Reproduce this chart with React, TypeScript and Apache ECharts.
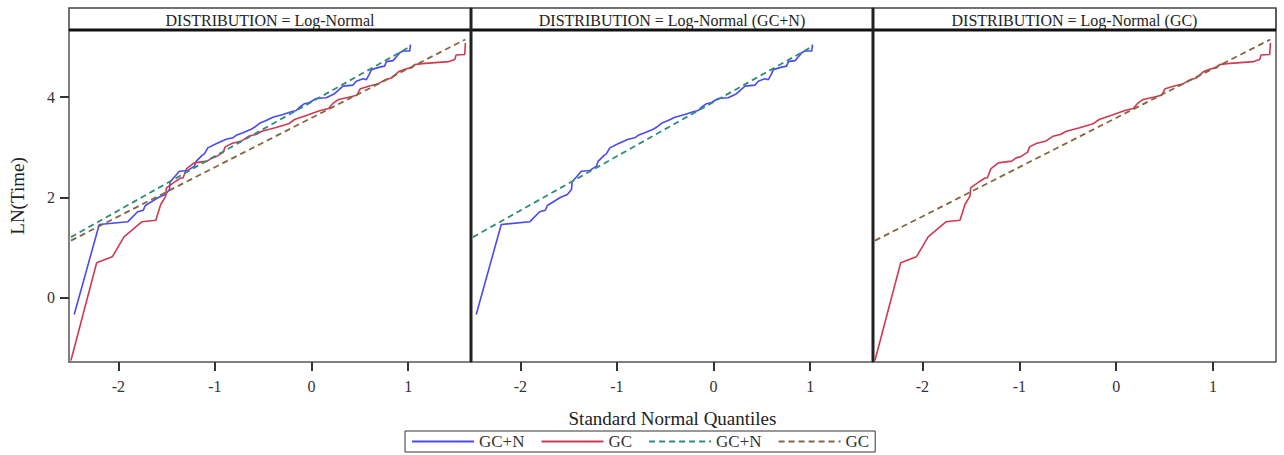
import React, { useEffect, useRef } from "react";
import * as echarts from "echarts";

// ---- data ----
const PANEL_TITLES = [
  "DISTRIBUTION = Log-Normal",
  "DISTRIBUTION = Log-Normal (GC+N)",
  "DISTRIBUTION = Log-Normal (GC)",
];
const X_TICKS = [-2, -1, 0, 1];
const Y_TICKS = [0, 2, 4];

const gcnX = [-2.456, -2.197, -1.903, -1.8, -1.741, -1.72, -1.582, -1.513, -1.47, -1.464, -1.368, -1.28, -1.212, -1.195, -1.133, -1.109, -1.074, -0.988, -0.884, -0.815, -0.78, -0.711, -0.625, -0.59, -0.539, -0.47, -0.4, -0.297, -0.21, -0.159, -0.124, -0.073, -0.021, 0.048, 0.152, 0.238, 0.325, 0.428, 0.463, 0.532, 0.567, 0.601, 0.618, 0.705, 0.756, 0.774, 0.843, 0.894, 0.912, 0.946, 1.016, 1.023];
const gcnY = [-0.333, 1.462, 1.515, 1.715, 1.747, 1.84, 2.006, 2.06, 2.16, 2.31, 2.525, 2.54, 2.625, 2.72, 2.84, 2.87, 2.99, 3.07, 3.16, 3.19, 3.24, 3.29, 3.36, 3.4, 3.48, 3.535, 3.6, 3.655, 3.71, 3.735, 3.8, 3.87, 3.895, 3.974, 3.99, 4.07, 4.22, 4.24, 4.32, 4.37, 4.35, 4.47, 4.55, 4.6, 4.62, 4.71, 4.73, 4.84, 4.885, 4.92, 4.92, 5.05];

const gcX = [-2.49, -2.224, -2.062, -1.941, -1.757, -1.612, -1.561, -1.509, -1.502, -1.405, -1.353, -1.33, -1.295, -1.216, -1.078, -1.032, -0.991, -0.915, -0.894, -0.819, -0.732, -0.653, -0.576, -0.514, -0.376, -0.238, -0.176, -0.048, 0.09, 0.176, 0.218, 0.28, 0.383, 0.47, 0.505, 0.591, 0.694, 0.764, 0.833, 0.902, 0.989, 1.04, 1.067, 1.144, 1.42, 1.482, 1.496, 1.585, 1.592];
const gcY = [-1.25, 0.698, 0.817, 1.216, 1.515, 1.547, 1.86, 2.026, 2.19, 2.325, 2.39, 2.39, 2.57, 2.69, 2.725, 2.79, 2.81, 2.9, 3.01, 3.08, 3.12, 3.22, 3.255, 3.32, 3.39, 3.47, 3.555, 3.64, 3.735, 3.775, 3.87, 3.955, 4.0, 4.04, 4.17, 4.22, 4.27, 4.35, 4.39, 4.51, 4.57, 4.59, 4.65, 4.67, 4.71, 4.75, 4.84, 4.85, 5.08];

// fitted reference lines (end points)
const gcnFitX = [-2.49, 1.03];
const gcnFitY = [1.21, 5.02];
const gcFitX = [-2.49, 1.59];
const gcFitY = [1.14, 5.15];

const X_MIN = -2.51;
const X_MAX = 1.65;
const Y_MIN = -1.28;
const Y_MAX = 5.34;

const zip = (xs: number[], ys: number[]) => xs.map((x, i) => [x, ys[i]]);

const FONT = "'Liberation Serif', 'Times New Roman', serif";
const COL_GCN = "#4a4af0";
const COL_GC = "#cf3a52";
const COL_GCN_FIT = "#2f8c7c";
const COL_GC_FIT = "#86663f";
const AXIS_COL = "#555";
const TICK_COL = "#333";

const PANELS = [
  { left: 69, width: 402 },
  { left: 471, width: 402 },
  { left: 873, width: 403 },
];
const TOP = 30;
const BOTTOM = 362;
const HEAD_TOP = 8;

export default function App() {
  const ref = useRef<HTMLDivElement>(null);

  useEffect(() => {
    if (!ref.current) return;
    const chart = echarts.init(ref.current, null, { renderer: "svg" });

    const grids = PANELS.map((p) => ({
      left: p.left,
      top: TOP,
      width: p.width,
      height: BOTTOM - TOP,
      show: false,
      containLabel: false,
      outerBoundsMode: "none",
    }));

    const xAxes = PANELS.map((_, i) => ({
      type: "value",
      gridIndex: i,
      position: "bottom",
      min: X_MIN,
      max: X_MAX,
      axisLine: { show: true, onZero: false, lineStyle: { color: AXIS_COL, width: 1.5 } },
      splitLine: { show: false },
      axisTick: {
        show: true,
        length: 9,
        customValues: X_TICKS,
        lineStyle: { color: TICK_COL, width: 2 },
      },
      axisLabel: {
        show: true,
        customValues: X_TICKS,
        margin: 16,
        color: "#333",
        fontFamily: FONT,
        fontSize: 16,
        formatter: (v: number) => String(v),
      },
    }));

    const yAxes = PANELS.map((_, i) => ({
      type: "value",
      gridIndex: i,
      position: "left",
      min: Y_MIN,
      max: Y_MAX,
      axisLine: { show: true, onZero: false, lineStyle: { color: AXIS_COL, width: 1.5 } },
      splitLine: { show: false },
      axisTick: {
        show: i === 0,
        length: 9,
        customValues: Y_TICKS,
        lineStyle: { color: TICK_COL, width: 2 },
      },
      axisLabel: {
        show: i === 0,
        customValues: Y_TICKS,
        margin: 14,
        color: "#333",
        fontFamily: FONT,
        fontSize: 16,
        formatter: (v: number) => String(v),
      },
      name: i === 0 ? "LN(Time)" : "",
      nameLocation: "middle",
      nameRotate: 90,
      nameGap: 42,
      nameTextStyle: { fontFamily: FONT, fontSize: 19, color: "#222" },
    }));

    const solid = (name: string, color: string, data: number[][], idx: number) => ({
      name,
      type: "line",
      xAxisIndex: idx,
      yAxisIndex: idx,
      data,
      symbol: "none",
      silent: true,
      lineStyle: { color, width: 1.6, type: "solid" },
      itemStyle: { color },
      z: 3,
    });
    const dashed = (name: string, color: string, data: number[][], idx: number) => ({
      name,
      type: "line",
      xAxisIndex: idx,
      yAxisIndex: idx,
      data,
      symbol: "none",
      silent: true,
      lineStyle: { color, width: 1.8, type: [6, 4] },
      itemStyle: { color },
      z: 4,
    });

    const gcn = zip(gcnX, gcnY);
    const gc = zip(gcX, gcY);
    const gcnFit = zip(gcnFitX, gcnFitY);
    const gcFit = zip(gcFitX, gcFitY);

    const series: any[] = [
      solid("GC+N obs", COL_GCN, gcn, 0),
      solid("GC obs", COL_GC, gc, 0),
      dashed("GC+N fit", COL_GCN_FIT, gcnFit, 0),
      dashed("GC fit", COL_GC_FIT, gcFit, 0),
      solid("GC+N obs", COL_GCN, gcn, 1),
      dashed("GC+N fit", COL_GCN_FIT, gcnFit, 1),
      solid("GC obs", COL_GC, gc, 2),
      dashed("GC fit", COL_GC_FIT, gcFit, 2),
    ];

    const RIGHT = PANELS[2].left + PANELS[2].width;
    const graphics: any[] = [];
    PANELS.forEach((p, i) => {
      graphics.push({
        type: "rect",
        shape: { x: p.left, y: HEAD_TOP, width: p.width, height: TOP - HEAD_TOP },
        style: { fill: "#fff", stroke: "#444", lineWidth: 1.5 },
        z: 1,
      });
      graphics.push({
        type: "text",
        x: p.left + p.width / 2,
        y: (HEAD_TOP + TOP) / 2 + 1,
        style: {
          text: PANEL_TITLES[i],
          fontFamily: FONT,
          fontSize: 16,
          fill: "#222",
          align: "center",
          verticalAlign: "middle",
        },
        z: 2,
      });
    });
    graphics.push({
      type: "line",
      shape: { x1: RIGHT, y1: HEAD_TOP, x2: RIGHT, y2: BOTTOM },
      style: { stroke: AXIS_COL, lineWidth: 1.5 },
      z: 11,
    });
    graphics.push({
      type: "line",
      shape: { x1: PANELS[0].left, y1: TOP, x2: RIGHT, y2: TOP },
      style: { stroke: "#111", lineWidth: 3 },
      z: 11,
    });
    [PANELS[1].left, PANELS[2].left].forEach((x) => {
      graphics.push({
        type: "line",
        shape: { x1: x, y1: HEAD_TOP, x2: x, y2: BOTTOM },
        style: { stroke: "#222", lineWidth: 3 },
        z: 11,
      });
    });
    graphics.push({
      type: "text",
      x: (PANELS[0].left + RIGHT) / 2,
      y: 418,
      style: {
        text: "Standard Normal Quantiles",
        fontFamily: FONT,
        fontSize: 19,
        fill: "#222",
        align: "center",
        verticalAlign: "middle",
      },
    });

    chart.setOption({
      animation: false,
      backgroundColor: "#fff",
      grid: grids,
      xAxis: xAxes,
      yAxis: yAxes,
      series,
      graphic: graphics,
      legend: {
        data: ["GC+N obs", "GC obs", "GC+N fit", "GC fit"],
        left: 405,
        top: 431,
        orient: "horizontal",
        itemWidth: 62,
        itemHeight: 14,
        itemGap: 16,
        padding: [2, 6, 2, 6],
        borderColor: "#333",
        borderWidth: 1,
        borderRadius: 0,
        selectedMode: false,
        itemStyle: { opacity: 0 },
        formatter: (n: string) => n.split(" ")[0],
        textStyle: { fontFamily: FONT, fontSize: 17, color: "#333" },
      },
    } as any);

    return () => chart.dispose();
  }, []);

  return (
    <div
      ref={ref}
      style={{ position: "absolute", left: 0, top: 0, width: 1284, height: 455 }}
    />
  );
}
